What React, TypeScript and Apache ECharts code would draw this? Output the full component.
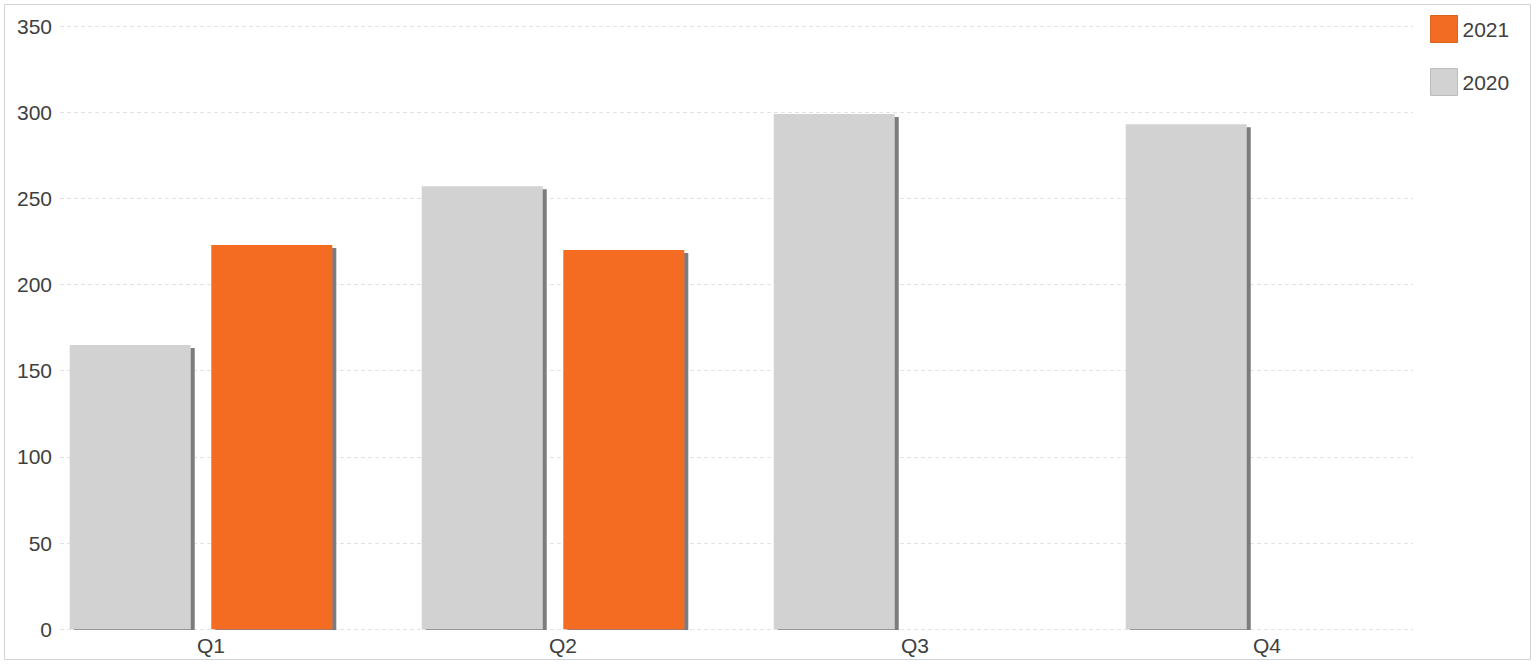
import React, { useEffect, useRef } from "react";
import * as echarts from "echarts";

const categories = ["Q1", "Q2", "Q3", "Q4"];
const values2020 = [165, 257, 299, 293];
const values2021: (number | null)[] = [223, 220, null, null];
const yTicks = { min: 0, max: 350, interval: 50 };
const legendOrder = ["2021", "2020"];

const FONT = "'Liberation Sans', Arial, sans-serif";
const TEXT = "#404040";
const FS = 21;

export default function App() {
  const ref = useRef<HTMLDivElement>(null);
  useEffect(() => {
    if (!ref.current) return;
    const chart = echarts.init(ref.current, undefined, { renderer: "svg" });
    const shadow = {
      shadowColor: "#7b7b7b",
      shadowBlur: 0,
      shadowOffsetX: 4,
      shadowOffsetY: 3,
    };
    chart.setOption({
      animation: false,
      textStyle: { fontFamily: FONT },
      graphic: [
        {
          type: "rect",
          shape: { x: 4.5, y: 4.5, width: 1526, height: 655 },
          style: { fill: "none", stroke: "#d3d3d3", lineWidth: 1 },
          silent: true,
          z: -10,
        },
        {
          type: "rect",
          shape: { x: 60, y: 630, width: 1380, height: 4 },
          style: { fill: "#ffffff" },
          silent: true,
          z: 100,
        },
      ],
      legend: {
        data: [
          { name: legendOrder[0], itemStyle: { borderColor: "#d9621f", borderWidth: 1 } },
          { name: legendOrder[1], itemStyle: { borderColor: "#bcbcbc", borderWidth: 1 } },
        ],
        orient: "vertical",
        left: 1430,
        top: 15,
        padding: 0,
        icon: "rect",
        itemWidth: 27,
        itemHeight: 27,
        itemGap: 25,
        textStyle: { fontSize: FS, color: TEXT, fontFamily: FONT },
        selectedMode: false,
      },
      grid: [
        { left: 60, width: 1353, top: 26, height: 603.3 },
        { left: 25, width: 1408, top: 26, height: 603.3 },
      ],
      xAxis: [
        {
          type: "category",
          gridIndex: 0,
          data: categories,
          show: false,
        },
        {
          type: "category",
          gridIndex: 1,
          data: categories,
          axisLine: { show: false },
          axisTick: { show: false },
          axisLabel: {
            fontSize: FS,
            color: TEXT,
            fontFamily: FONT,
            margin: 6,
            padding: [0, 0, 0, 20],
          },
        },
      ],
      yAxis: [
        {
          type: "value",
          gridIndex: 0,
          min: yTicks.min,
          max: yTicks.max,
          interval: yTicks.interval,
          axisLine: { show: false },
          axisTick: { show: false },
          axisLabel: { fontSize: FS, color: TEXT, fontFamily: FONT, margin: 8 },
          splitLine: { lineStyle: { color: "#e3e3e3", type: [4, 3], width: 1 } },
        },
        {
          type: "value",
          gridIndex: 1,
          min: yTicks.min,
          max: yTicks.max,
          interval: yTicks.interval,
          show: false,
          splitLine: { show: false },
        },
      ],
      series: [
        {
          name: "2020",
          type: "bar",
          xAxisIndex: 1,
          yAxisIndex: 1,
          data: values2020,
          barWidth: 121,
          barGap: "17%",
          itemStyle: {
            color: "#d2d2d2",
            borderWidth: 0,
            ...shadow,
          },
        },
        {
          name: "2021",
          type: "bar",
          xAxisIndex: 1,
          yAxisIndex: 1,
          data: values2021,
          barWidth: 121,
          barGap: "17%",
          itemStyle: {
            color: "#f36c24",
            borderWidth: 0,
            ...shadow,
          },
        },
      ],
    });
    return () => chart.dispose();
  }, []);
  return (
    <div
      ref={ref}
      style={{ position: "absolute", left: 0, top: 0, width: 1536, height: 665 }}
    />
  );
}
